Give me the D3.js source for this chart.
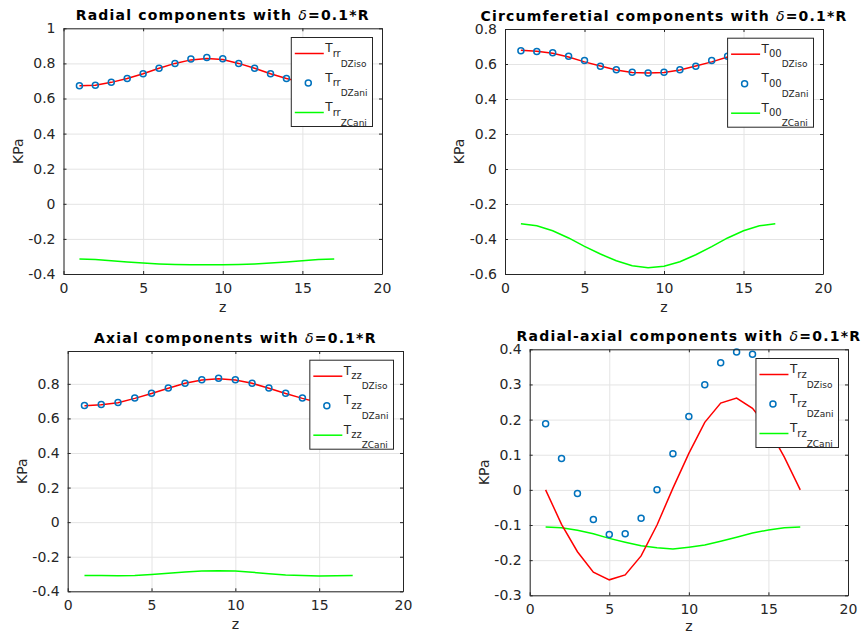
<!DOCTYPE html>
<html>
<head>
<meta charset="utf-8">
<script src="https://cdn.jsdelivr.net/npm/d3@7"></script>
<style>
body { margin: 0; background: #fff; }
svg { font-family: "DejaVu Sans", sans-serif; }
.tick text { font-size: 14px; fill: #262626; }
.grid line { stroke: #e4e4e4; }
.grid path { display: none; }
.frame path, .frame line { stroke: #262626; }
</style>
</head>
<body>
<svg id="fig" width="866" height="634"></svg>
<script>
var zVals = [1, 2, 3, 4, 5, 6, 7, 8, 9, 10, 11, 12, 13, 14, 15, 16, 17];

// radial
var trrIso = [0.672, 0.676, 0.692, 0.714, 0.741, 0.772, 0.800, 0.820, 0.828, 0.822, 0.800, 0.772, 0.741, 0.714, 0.692, 0.676, 0.672];
var trrAni = [0.672, 0.676, 0.693, 0.714, 0.741, 0.773, 0.800, 0.825, 0.833, 0.826, 0.800, 0.773, 0.741, 0.714, 0.693, 0.676, 0.672];
var trrZC  = [-0.315, -0.318, -0.324, -0.331, -0.338, -0.343, -0.346, -0.348, -0.348, -0.348, -0.346, -0.343, -0.338, -0.331, -0.324, -0.318, -0.315];

// circumferential
var tttIso = [0.678, 0.673, 0.662, 0.640, 0.612, 0.588, 0.566, 0.552, 0.548, 0.552, 0.566, 0.588, 0.612, 0.640, 0.662, 0.673, 0.678];
var tttAni = [0.676, 0.672, 0.664, 0.645, 0.620, 0.587, 0.567, 0.553, 0.549, 0.553, 0.567, 0.587, 0.620, 0.645, 0.664, 0.672, 0.676];
var tttZC  = [-0.313, -0.324, -0.353, -0.394, -0.442, -0.486, -0.524, -0.553, -0.564, -0.556, -0.530, -0.490, -0.444, -0.394, -0.353, -0.324, -0.313];

// axial
var tzzIso = [0.673, 0.679, 0.691, 0.716, 0.744, 0.775, 0.803, 0.822, 0.830, 0.822, 0.803, 0.775, 0.744, 0.716, 0.691, 0.679, 0.673];
var tzzAni = [0.675, 0.680, 0.692, 0.718, 0.745, 0.776, 0.804, 0.824, 0.833, 0.824, 0.804, 0.776, 0.745, 0.718, 0.692, 0.680, 0.675];
var tzzZC  = [-0.308, -0.309, -0.310, -0.308, -0.303, -0.296, -0.288, -0.283, -0.281, -0.283, -0.290, -0.298, -0.305, -0.309, -0.311, -0.310, -0.308];

// radial-axial
var trzIso = [0.000, -0.098, -0.176, -0.234, -0.256, -0.242, -0.188, -0.100, 0.005, 0.104, 0.192, 0.247, 0.261, 0.232, 0.175, 0.093, 0.000];
var trzAni = [0.188, 0.089, -0.010, -0.084, -0.127, -0.125, -0.081, 0.000, 0.103, 0.209, 0.299, 0.362, 0.392, 0.386, 0.342, 0.272, 0.186];
var trzZC  = [-0.106, -0.108, -0.115, -0.125, -0.138, -0.149, -0.159, -0.165, -0.168, -0.163, -0.157, -0.146, -0.135, -0.123, -0.114, -0.108, -0.106];

var xTicks = [0, 5, 10, 15, 20];
var yTicksRad = [-0.4, -0.2, 0, 0.2, 0.4, 0.6, 0.8, 1];
var yTicksCirc = [-0.6, -0.4, -0.2, 0, 0.2, 0.4, 0.6, 0.8];
var yTicksAx = [-0.4, -0.2, 0, 0.2, 0.4, 0.6, 0.8];
var yTicksRz = [-0.3, -0.2, -0.1, 0, 0.1, 0.2, 0.3, 0.4];

var titles = ["Radial components with ", "Circumferetial components with ", "Axial components with ", "Radial-axial components with "];
var subs = ["rr", "00", "zz", "rz"];
var legendTags = ["DZiso", "DZani", "ZCani"];

var panels = [
  {title: titles[0], sub: subs[0], iso: trrIso, ani: trrAni, zc: trrZC, yDom: [-0.4, 1], yTicks: yTicksRad, l: 63.5, t: 28.3, r: 382, b: 274},
  {title: titles[1], sub: subs[1], iso: tttIso, ani: tttAni, zc: tttZC, yDom: [-0.6, 0.8], yTicks: yTicksCirc, l: 505, t: 29, r: 823, b: 274},
  {title: titles[2], sub: subs[2], iso: tzzIso, ani: tzzAni, zc: tzzZC, yDom: [-0.4, 0.99], yTicks: yTicksAx, l: 67.7, t: 351, r: 403, b: 591.3},
  {title: titles[3], sub: subs[3], iso: trzIso, ani: trzAni, zc: trzZC, yDom: [-0.3, 0.4], yTicks: yTicksRz, l: 529.7, t: 349.3, r: 848, b: 595.3}
];

var RED = "#ff0000", GREEN = "#00ff00", BLUE = "#0072bd";
var fmt = function(d) { return String(d); };
var svg = d3.select("#fig");

panels.forEach(function(p) {
  var w = p.r - p.l, h = p.b - p.t;
  var x = d3.scaleLinear().domain([0, 20]).range([0, w]);
  var y = d3.scaleLinear().domain(p.yDom).range([h, 0]);

  var g = svg.append("g").attr("transform", "translate(" + p.l + "," + p.t + ")");

  g.append("rect").attr("width", w).attr("height", h).attr("fill", "#fff");

  // grid
  g.append("g").attr("class", "grid")
    .attr("transform", "translate(0," + h + ")")
    .call(d3.axisBottom(x).tickValues(xTicks).tickSize(-h).tickFormat(""));
  g.append("g").attr("class", "grid")
    .call(d3.axisLeft(y).tickValues(p.yTicks).tickSize(-w).tickFormat(""));

  // series
  var line = d3.line()
    .x(function(d, i) { return x(zVals[i]); })
    .y(function(d) { return y(d); });

  g.append("path").datum(p.zc)
    .attr("d", line).attr("fill", "none")
    .attr("stroke", GREEN).attr("stroke-width", 1.5);
  g.append("path").datum(p.iso)
    .attr("d", line).attr("fill", "none")
    .attr("stroke", RED).attr("stroke-width", 1.5);
  g.selectAll(".ani").data(p.ani).enter()
    .append("circle").attr("class", "ani")
    .attr("cx", function(d, i) { return x(zVals[i]); })
    .attr("cy", function(d) { return y(d); })
    .attr("r", 3)
    .attr("fill", "none").attr("stroke", BLUE).attr("stroke-width", 1.5);

  // frame and ticks
  g.append("g").attr("class", "frame")
    .attr("transform", "translate(0," + h + ")")
    .call(d3.axisBottom(x).tickValues(xTicks).tickSizeInner(-3).tickSizeOuter(0).tickPadding(9).tickFormat(fmt));
  g.append("g").attr("class", "frame")
    .call(d3.axisLeft(y).tickValues(p.yTicks).tickSizeInner(-3).tickSizeOuter(0).tickPadding(8).tickFormat(fmt));
  g.append("g").attr("class", "frame")
    .call(d3.axisTop(x).tickValues(xTicks).tickSizeInner(-3).tickSizeOuter(0).tickFormat(""));
  g.append("g").attr("class", "frame")
    .attr("transform", "translate(" + w + ",0)")
    .call(d3.axisRight(y).tickValues(p.yTicks).tickSizeInner(-3).tickSizeOuter(0).tickFormat(""));
  g.selectAll(".frame .tick text").attr("fill", "#262626").style("font-size", "14px")
    .style("font-family", "DejaVu Sans, sans-serif");

  // labels
  var tt = g.append("text")
    .attr("x", w / 2).attr("y", -8.5)
    .attr("text-anchor", "middle")
    .style("font-size", "14px").style("font-weight", "bold").style("letter-spacing", "1.2px")
    .attr("fill", "#000")
    .text(p.title);
  tt.append("tspan").style("font-style", "italic").style("font-weight", "normal").text("δ");
  tt.append("tspan").text("=0.1*R");

  g.append("text")
    .attr("x", w / 2).attr("y", Math.min(h + 38, 631 - p.t))
    .attr("text-anchor", "middle")
    .style("font-size", "14px").attr("fill", "#262626")
    .text("z");
  g.append("text")
    .attr("transform", "translate(-41," + (h / 2) + ") rotate(-90)")
    .attr("text-anchor", "middle")
    .style("font-size", "14px").attr("fill", "#262626")
    .text("KPa");

  // legend
  var lg = g.append("g");
  var box = lg.append("rect")
    .attr("fill", "#fff").attr("stroke", "#262626").attr("stroke-width", 1);
  var maxLen = 0;
  legendTags.forEach(function(tag, k) {
    var ly = 16 + k * 29.5;
    if (k === 1) {
      lg.append("circle").attr("cx", 17).attr("cy", ly).attr("r", 3)
        .attr("fill", "none").attr("stroke", BLUE).attr("stroke-width", 1.5);
    } else {
      lg.append("line").attr("x1", 3.5).attr("x2", 32.5).attr("y1", ly).attr("y2", ly)
        .attr("stroke", k === 0 ? RED : GREEN).attr("stroke-width", 1.5);
    }
    var txt = lg.append("text").attr("x", 34).attr("y", ly - 1.3)
      .attr("fill", "#262626").style("font-size", "12px").text("T");
    txt.append("tspan").attr("dy", 4.3).style("font-size", "10px").text(p.sub);
    txt.append("tspan").attr("dy", 10).style("font-size", "9px").text(tag);
    maxLen = Math.max(maxLen, txt.node().getComputedTextLength());
  });
  var lw = 34 + maxLen + 5, lh = 89;
  box.attr("width", lw).attr("height", lh);
  lg.attr("transform", "translate(" + (w - 9.5 - lw) + ",9.2)");
});
</script>
</body>
</html>
